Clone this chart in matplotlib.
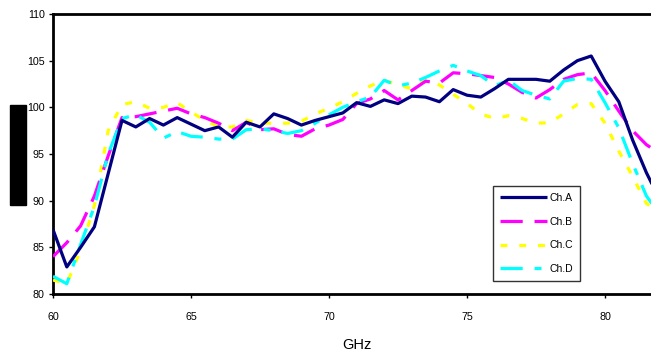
import matplotlib
matplotlib.use("Agg")
import matplotlib.pyplot as plt
from matplotlib.patches import Rectangle

plt.rcParams['lines.scale_dashes'] = False
plt.rcParams['font.family'] = ['Liberation Sans Narrow', 'Liberation Sans', 'DejaVu Sans']

freq = [60.0, 60.5, 61.0, 61.5, 62.0, 62.5, 63.0, 63.5, 64.0, 64.5, 65.0, 65.5,
        66.0, 66.5, 67.0, 67.5, 68.0, 68.5, 69.0, 69.5, 70.0, 70.5, 71.0, 71.5,
        72.0, 72.5, 73.0, 73.5, 74.0, 74.5, 75.0, 75.5, 76.0, 76.5, 77.0, 77.5,
        78.0, 78.5, 79.0, 79.5, 80.0, 80.5, 81.0, 81.5, 82.0]

ch_a = [86.9, 82.9, 85.0, 87.2, 92.9, 98.6, 97.9, 98.8, 98.1, 98.9, 98.2, 97.5,
        97.9, 96.8, 98.4, 97.9, 99.3, 98.8, 98.1, 98.6, 99.0, 99.4, 100.5, 100.1,
        100.8, 100.4, 101.2, 101.1, 100.6, 101.9, 101.3, 101.1, 102.0, 103.0, 103.0, 103.0,
        102.8, 104.0, 105.0, 105.5, 102.8, 100.6, 96.5, 93.0, 90.0]

ch_b = [84.0, 85.5, 87.3, 90.5, 94.8, 98.9, 99.0, 99.3, 99.6, 99.9, 99.3, 98.9,
        98.3, 97.5, 98.4, 97.6, 97.7, 97.1, 96.9, 97.7, 98.1, 98.7, 100.4, 100.9,
        101.8, 100.8, 101.8, 102.8, 102.6, 103.7, 103.6, 103.4, 103.2, 102.5, 101.6, 101.0,
        101.9, 103.0, 103.5, 103.7, 101.8, 99.6, 97.5, 96.0, 95.0]

ch_c = [81.5, 81.1, 84.7, 89.5, 97.5, 100.3, 100.6, 99.9, 100.0, 100.5, 99.5, 98.6,
        97.9, 97.9, 98.6, 98.3, 98.3, 98.3, 98.5, 99.3, 99.9, 100.6, 101.5, 102.3,
        102.9, 102.4, 102.0, 102.9, 102.4, 101.4, 100.4, 99.3, 98.8, 99.1, 98.8, 98.3,
        98.35, 99.3, 100.3, 100.4, 98.3, 95.3, 92.6, 89.7, 88.8]

ch_d = [81.9, 81.1, 85.3, 89.4, 95.0, 98.8, 99.2, 98.4, 96.7, 97.4, 96.9, 96.8,
        96.6, 96.6, 97.6, 97.7, 97.5, 97.2, 97.5, 98.3, 99.2, 100.0, 100.6, 101.1,
        102.9, 102.3, 102.6, 103.2, 103.9, 104.5, 103.9, 103.4, 102.3, 102.9, 101.8, 101.3,
        100.9, 102.8, 103.1, 103.0, 100.5, 97.8, 94.0, 90.5, 88.5]

labels = ["Ch.A", "Ch.B", "Ch.C", "Ch.D"]
xticks = [60, 65, 70, 75, 80]
yticks = [80, 85, 90, 95, 100, 105, 110]

fig = plt.figure(figsize=(6.51, 3.54), dpi=100)
ax = fig.add_axes([53/651, 1 - 294/354, 1 - 53/651, (294 - 14)/354])

lw = 2.3
ax.plot(freq, ch_a, color='#000080', lw=lw, label=labels[0], solid_capstyle='butt', zorder=5)
ax.plot(freq, ch_b, color='#FF00FF', lw=lw, linestyle=(0, (16, 8.5)), label=labels[1], zorder=4)
ax.plot(freq, ch_c, color='#FFFF00', lw=lw, linestyle=(0, (5, 8.5)), label=labels[2], zorder=3)
ax.plot(freq, ch_d, color='#00FFFF', lw=lw, linestyle=(0, (16, 8.5, 5, 8)), label=labels[3], zorder=4)

ax.set_xlim(60, 60 + (651 - 53) / 27.6)
ax.set_ylim(80, 110)
ax.set_xticks(xticks)
ax.set_xticklabels([str(t) for t in xticks])
ax.set_yticks(yticks)
ax.set_yticklabels([str(t) for t in yticks])
ax.tick_params(axis='both', direction='out', length=3, width=1, labelsize=7.7, pad=3)
ax.tick_params(axis='x', pad=10)
for s in ['left', 'bottom', 'top']:
    ax.spines[s].set_linewidth(2)
ax.spines['right'].set_visible(False)

fig.text(357/651, 1 - 345/354, "GHz", fontsize=10.5, ha='center', va='center')

leg = ax.legend(loc='lower left', bbox_to_anchor=((493 - 53) / (651 - 53), (294 - 281) / 280),
                frameon=True, fancybox=False, edgecolor='black', fontsize=7.5,
                handlelength=4.5, handletextpad=0.2, labelspacing=1.3, borderpad=0.7,
                borderaxespad=0)
leg.get_frame().set_linewidth(1)

fig.patches.append(Rectangle((10/651, 1 - 205/354), 16/651, 100/354,
                             transform=fig.transFigure, color='black', zorder=10))

fig.savefig("out.png", dpi=100)
